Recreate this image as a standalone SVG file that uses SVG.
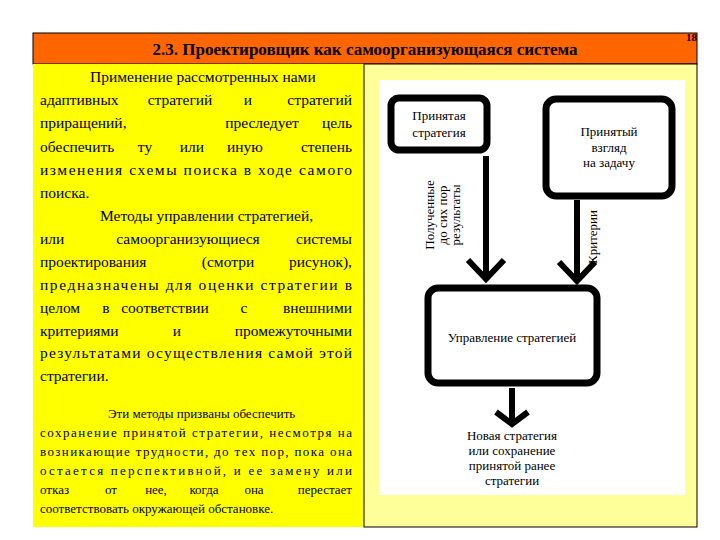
<svg xmlns="http://www.w3.org/2000/svg" width="720" height="540" viewBox="0 0 720 540">
<style>
text{font-family:"Liberation Serif","Times New Roman","DejaVu Serif",serif;fill:#000}
.t{font-size:15.5px}
.s{font-size:13px}
.m{text-anchor:middle}
.e{text-anchor:end}
.d{font-size:13px;text-anchor:middle}
.box{fill:#fff;stroke:#000;stroke-width:7}
.ln{stroke:#000;stroke-width:6;fill:none}
.hd{stroke:#000;stroke-width:6;fill:none;stroke-linejoin:miter}
</style>
<rect width="720" height="540" fill="#fff"/>
<rect x="33" y="33" width="664" height="31" fill="#ff6600" stroke="#000" stroke-width="1"/>
<text x="365" y="55" font-size="17" font-weight="bold" text-anchor="middle">2.3. Проектировщик как самоорганизующаяся система</text>
<text x="697" y="41" font-size="11" font-weight="bold" text-anchor="end">18</text>
<rect x="33" y="64" width="331" height="463" fill="#ffff00"/>
<rect x="364" y="64" width="333" height="463" fill="#ffff99" stroke="#000" stroke-width="1"/>
<rect x="379" y="80" width="306" height="415" fill="#fff"/>
<g id="text-left">
<text class="t" x="90" y="82">Применение рассмотренных нами</text>
<text class="t" y="105"><tspan x="40">адаптивных</tspan><tspan class="m" x="180">стратегий</tspan><tspan class="m" x="248">и</tspan><tspan class="e" x="352">стратегий</tspan></text>
<text class="t" y="128"><tspan x="40">приращений,</tspan><tspan class="m" x="262">преследует</tspan><tspan class="e" x="352">цель</tspan></text>
<text class="t" y="152"><tspan x="40">обеспечить</tspan><tspan class="m" x="145">ту</tspan><tspan class="m" x="192">или</tspan><tspan class="m" x="245">иную</tspan><tspan class="e" x="352">степень</tspan></text>
<text class="t" x="40" y="175" textLength="312" lengthAdjust="spacing">изменения схемы поиска в ходе самого</text>
<text class="t" x="40" y="198">поиска.</text>
<text class="t" x="100" y="221">Методы управлении стратегией,</text>
<text class="t" y="244"><tspan x="40">или</tspan><tspan class="m" x="188">самоорганизующиеся</tspan><tspan class="e" x="352">системы</tspan></text>
<text class="t" y="267"><tspan x="40">проектирования</tspan><tspan class="m" x="228">(смотри</tspan><tspan class="e" x="352">рисунок),</tspan></text>
<text class="t" x="40" y="290" textLength="312" lengthAdjust="spacing">предназначены для оценки стратегии в</text>
<text class="t" y="313"><tspan x="40">целом</tspan><tspan class="m" x="106">в</tspan><tspan class="m" x="165">соответствии</tspan><tspan class="m" x="244">с</tspan><tspan class="e" x="352">внешними</tspan></text>
<text class="t" y="336"><tspan x="40">критериями</tspan><tspan class="m" x="177">и</tspan><tspan class="e" x="352">промежуточными</tspan></text>
<text class="t" x="40" y="358" textLength="312" lengthAdjust="spacing">результатами осуществления самой этой</text>
<text class="t" x="40" y="381">стратегии.</text>
<text class="s" x="108" y="418">Эти методы призваны обеспечить</text>
<text class="s" x="40" y="437" textLength="312" lengthAdjust="spacing">сохранение принятой стратегии, несмотря на</text>
<text class="s" x="40" y="456" textLength="312" lengthAdjust="spacing">возникающие трудности, до тех пор, пока она</text>
<text class="s" x="40" y="475" textLength="312" lengthAdjust="spacing">остается перспективной, и ее замену или</text>
<text class="s" y="494"><tspan x="40">отказ</tspan><tspan class="m" x="111">от</tspan><tspan class="m" x="156">нее,</tspan><tspan class="m" x="204">когда</tspan><tspan class="m" x="254">она</tspan><tspan class="e" x="352">перестает</tspan></text>
<text class="s" x="40" y="513">соответствовать окружающей обстановке.</text>
</g>
<g id="node-strategy">
<rect class="box" x="391" y="98" width="96" height="52" rx="8"/>
<text class="d" x="439" y="120">Принятая</text>
<text class="d" x="439" y="137">стратегия</text>
</g>
<g id="node-view">
<rect class="box" x="546" y="99" width="126" height="97" rx="10"/>
<text class="d" x="609" y="136">Принятый</text>
<text class="d" x="609" y="152">взгляд</text>
<text class="d" x="609" y="167">на задачу</text>
</g>
<g id="node-control">
<rect class="box" x="428" y="288" width="169" height="95" rx="10"/>
<text class="d" x="512" y="342">Управление стратегией</text>
</g>
<g id="node-result">
<text class="d" x="512" y="440">Новая стратегия</text>
<text class="d" x="512" y="455">или сохранение</text>
<text class="d" x="512" y="470">принятой ранее</text>
<text class="d" x="512" y="485">стратегии</text>
</g>
<g id="connectors">
<line class="ln" x1="486" y1="156" x2="486" y2="278"/>
<polyline class="hd" points="468,260 486,279 504,260"/>
<line class="ln" x1="577" y1="200" x2="577" y2="280"/>
<polyline class="hd" points="559,262 577,281 595,262"/>
<line class="ln" x1="512" y1="388" x2="512" y2="422" stroke-width="4"/>
<polyline class="hd" points="496,412 512,424 528,412" stroke-width="4"/>
<text class="d" transform="translate(434,215) rotate(-90)">Полученные</text>
<text class="d" transform="translate(447,215) rotate(-90)">до сих пор</text>
<text class="d" transform="translate(460,215) rotate(-90)">результаты</text>
<text class="d" transform="translate(597,237) rotate(-90)">Критерии</text>
</g>
</svg>
